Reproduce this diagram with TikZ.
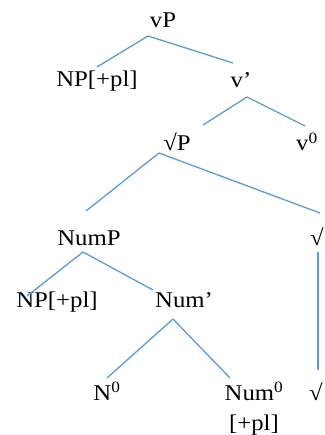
\documentclass[tikz,border=0pt]{standalone}
\usepackage{fontspec}
\setmainfont{Liberation Serif}[FakeStretch=1.1]
\usepackage{tikz}
\usetikzlibrary{positioning,calc}
\definecolor{branch}{HTML}{5B9BD5}

\begin{document}
\begin{tikzpicture}[x=1pt,y=1pt,font=\fontsize{22.5}{27}\selectfont,
  lbl/.style={inner sep=0pt,anchor=base},
  br/.style={draw=branch,line width=1.3pt}]
  \useasboundingbox (0,0) rectangle (324,-435);
  % labels, placed on their baselines
  \node[lbl] (vp) at (163,-28) {vP};
  \node[lbl] (np1) at (97,-87) {NP[+pl]};
  \node[lbl] (vbar) at (241,-88) {v’};
  \node[lbl] (rp) at (177,-151) {√P};
  \node[lbl] (v0) at (307,-151) {v\textsuperscript{0}};
  \node[lbl] (nump) at (89,-245) {NumP};
  \node[lbl] (r1) at (317,-245) {√};
  \node[lbl] (np2) at (57,-307) {NP[+pl]};
  \node[lbl] (numbar) at (184,-307) {Num’};
  \node[lbl] (n0) at (107,-400) {N\textsuperscript{0}};
  % two lines: base is the lower line
  \node[lbl,align=center] (num0) at (254,-430) {Num\textsuperscript{0}\\[3pt]{[+pl]}};
  \node[lbl] (r2) at (316,-400) {√};
  % branches
  \draw[br] ([xshift=-15pt,yshift=-8pt]vp.base) -- ([yshift=20pt]np1.base);
  \draw[br] ([xshift=-15pt,yshift=-8pt]vp.base) -- ([xshift=-8pt,yshift=25pt]vbar.base);
  \draw[br] ([xshift=6pt,yshift=-9pt]vbar.base) -- ([xshift=26pt,yshift=26pt]rp.base);
  \draw[br] ([xshift=6pt,yshift=-9pt]vbar.base) -- ([xshift=-2pt,yshift=25pt]v0.base);
  \draw[br] ([xshift=-18pt,yshift=-2pt]rp.base) -- ([xshift=-3pt,yshift=34pt]nump.base);
  \draw[br] ([xshift=-18pt,yshift=-2pt]rp.base) -- ([xshift=3pt,yshift=32pt]r1.base);
  \draw[br] ([xshift=-6pt,yshift=-7pt]nump.base) -- ([xshift=-30pt,yshift=11pt]np2.base);
  \draw[br] ([xshift=-6pt,yshift=-7pt]nump.base) -- ([xshift=-31pt,yshift=17pt]numbar.base);
  \draw[br] ([xshift=1pt,yshift=-7pt]r1.base) -- ([xshift=2pt,yshift=30pt]r2.base);
  \draw[br] ([xshift=-11pt,yshift=-12pt]numbar.base) -- ([yshift=22pt]n0.base);
  \draw[br] ([xshift=-11pt,yshift=-12pt]numbar.base) -- ([xshift=-24pt,yshift=52pt]num0.base);
\end{tikzpicture}
\end{document}
